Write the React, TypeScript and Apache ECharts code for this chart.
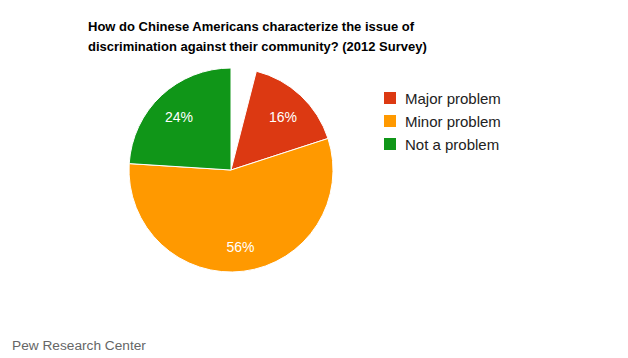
import React, { useEffect, useRef } from "react";
import * as echarts from "echarts";

const categories = ["Major problem", "Minor problem", "Not a problem"];
const values = [16, 56, 24];
const otherValue = 4; // unlabelled remainder (don't know / refused)
const colors = ["#dc3912", "#ff9900", "#109618"];
const titleLines = [
  "How do Chinese Americans characterize the issue of",
  "discrimination against their community? (2012 Survey)",
];
const sourceText = "Pew Research Center";

const FONT = "Arial, 'Liberation Sans', sans-serif";

export default function App() {
  const ref = useRef<HTMLDivElement>(null);
  useEffect(() => {
    if (!ref.current) return;
    const chart = echarts.init(ref.current, undefined, { renderer: "svg" });
    const pieData = [
      {
        name: "__other",
        value: otherValue,
        itemStyle: { color: "rgba(0,0,0,0)", borderWidth: 0 },
        label: { show: false },
      },
      ...categories.map((c, i) => ({
        name: c,
        value: values[i],
        itemStyle: { color: colors[i] },
      })),
    ];
    chart.setOption({
      animation: false,
      backgroundColor: "#ffffff",
      title: [
        {
          text: titleLines.join("\n"),
          left: 83,
          top: 11,
          textStyle: {
            fontFamily: FONT,
            fontSize: 13,
            fontWeight: "bold",
            color: "#000000",
            lineHeight: 20,
          },
        },
        {
          text: sourceText,
          left: 7,
          top: 333,
          textStyle: {
            fontFamily: FONT,
            fontSize: 13.7,
            fontWeight: "normal",
            color: "#666666",
          },
        },
      ],
      legend: {
        orient: "vertical",
        left: 377,
        top: 85,
        icon: "rect",
        itemWidth: 14,
        itemHeight: 14,
        itemGap: 7,
        data: categories,
        textStyle: {
          fontFamily: FONT,
          fontSize: 15,
          color: "#222222",
          padding: [0, 0, 0, 3],
        },
        selectedMode: false,
      },
      series: [
        {
          type: "pie",
          center: [231, 170],
          radius: [0, 102],
          startAngle: 90,
          clockwise: true,
          silent: true,
          itemStyle: { borderColor: "#ffffff", borderWidth: 1 },
          label: { show: false },
          labelLine: { show: false },
          data: pieData,
        },
        {
          type: "pie",
          center: [231, 172],
          radius: [0, 146],
          startAngle: 90,
          clockwise: true,
          silent: true,
          z: 5,
          label: {
            show: true,
            position: "inside",
            formatter: (p: any) => `${p.value}%`,
            fontFamily: FONT,
            fontSize: 14,
            color: "#ffffff",
            fontWeight: "normal",
            textBorderWidth: 0,
          },
          labelLine: { show: false },
          data: pieData.map((d, i) => ({
            name: d.name,
            value: d.value,
            itemStyle: { color: "rgba(0,0,0,0)", borderWidth: 0 },
            label: i === 0 ? { show: false } : undefined,
          })),
        },
      ],
    });
    return () => chart.dispose();
  }, []);
  return (
    <div
      ref={ref}
      style={{ position: "fixed", left: 0, top: 0, width: 628, height: 358 }}
    />
  );
}
